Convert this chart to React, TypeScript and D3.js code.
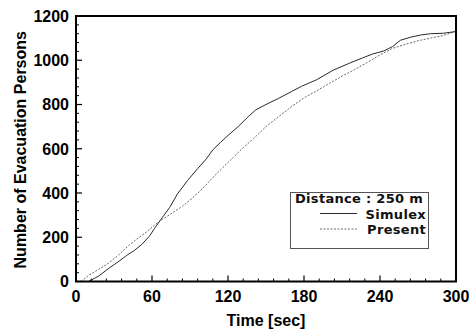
import React from "react";
import * as d3 from "d3";

const simulexTime = [10, 18, 26, 34, 40, 46, 52, 58, 62, 68, 74, 80, 88, 96, 103, 108, 114, 120, 128, 136, 142, 150, 160, 170, 178, 190, 203, 216, 226, 234, 243, 250, 256, 264, 272, 280, 290, 300];
const simulexPersons = [0, 25, 60, 92, 118, 140, 168, 205, 240, 288, 335, 395, 456, 510, 555, 595, 628, 660, 700, 745, 776, 800, 828, 858, 882, 912, 955, 987, 1010, 1028, 1042, 1062, 1090, 1104, 1114, 1120, 1122, 1130];

const presentTime = [4, 10, 18, 26, 34, 42, 50, 56, 62, 68, 74, 84, 92, 100, 108, 116, 124, 132, 140, 150, 160, 170, 180, 190, 200, 210, 220, 230, 240, 250, 260, 270, 280, 290, 300];
const presentPersons = [0, 28, 55, 84, 122, 165, 200, 225, 255, 280, 302, 340, 378, 420, 470, 515, 560, 605, 645, 700, 745, 790, 830, 862, 895, 928, 958, 990, 1024, 1054, 1072, 1088, 1100, 1112, 1130];

const xTicks = [0, 60, 120, 180, 240, 300];
const yTicks = [0, 200, 400, 600, 800, 1000, 1200];
const legendTitle = "Distance : 250 m";
const seriesNames = ["Simulex", "Present"];

export default function App() {
  const W = 474, H = 331;
  const L = 76, R = 456, T = 16, B = 281.5;
  const x = d3.scaleLinear().domain([0, 300]).range([L, R]);
  const y = d3.scaleLinear().domain([0, 1200]).range([B, T]);
  const line = d3.line<[number, number]>().x(d => x(d[0])).y(d => y(d[1]));
  const sim = simulexTime.map((t, i) => [t, simulexPersons[i]] as [number, number]);
  const pre = presentTime.map((t, i) => [t, presentPersons[i]] as [number, number]);
  const xMinor = d3.range(0, 301, 12).filter(v => v % 60 !== 0);
  const yMinor = d3.range(0, 1201, 40).filter(v => v % 200 !== 0);
  const font = "'Liberation Sans', Arial, sans-serif";
  const legendFont = "'DejaVu Sans', sans-serif";
  return (
    <svg width={W} height={H} style={{ position: "absolute", left: 0, top: 0, background: "#fff" }} fontFamily={font}>
      <rect x={0} y={0} width={W} height={H} fill="#fff" />
      {/* curves */}
      <path d={line(pre) || ""} fill="none" stroke="#6a6a6a" strokeWidth={1} strokeDasharray="2 1.5" />
      <path d={line(sim) || ""} fill="none" stroke="#2a2a2a" strokeWidth={1} />
      {/* ticks */}
      {xTicks.map(v => <line key={"xt" + v} x1={x(v)} x2={x(v)} y1={B} y2={B - 6} stroke="#000" strokeWidth={1.2} />)}
      {xMinor.map(v => <line key={"xm" + v} x1={x(v)} x2={x(v)} y1={B} y2={B - 3} stroke="#000" strokeWidth={1} />)}
      {yTicks.map(v => <line key={"yt" + v} x1={L} x2={L + 6} y1={y(v)} y2={y(v)} stroke="#000" strokeWidth={1.2} />)}
      {yMinor.map(v => <line key={"ym" + v} x1={L} x2={L + 3} y1={y(v)} y2={y(v)} stroke="#000" strokeWidth={1} />)}
      {/* frame */}
      <rect x={L} y={T} width={R - L} height={B - T} fill="none" stroke="#000" strokeWidth={2} />
      {/* tick labels */}
      {xTicks.map(v => (
        <text key={"xl" + v} x={x(v)} y={301.5} textAnchor="middle" fontSize={16} fontWeight="bold">{v}</text>
      ))}
      {yTicks.map(v => (
        <text key={"yl" + v} x={69} y={y(v) + 5.8} textAnchor="end" fontSize={16} fontWeight="bold">{v}</text>
      ))}
      <text x={x(150)} y={326} textAnchor="middle" fontSize={16} fontWeight="bold">Time [sec]</text>
      <text transform={`translate(26,${(T + B) / 2 + 1}) rotate(-90)`} textAnchor="middle" fontSize={16} fontWeight="bold">Number of Evacuation Persons</text>
      {/* legend */}
      <rect x={290.5} y={192.5} width={138} height={56} fill="#fff" stroke="#555" strokeWidth={1} />
      <g fontFamily={legendFont} fontSize={13} fontWeight="bold" fill="#111">
        <text x={295} y={203} letterSpacing={0.3}>{legendTitle}</text>
        <line x1={320} x2={357} y1={213.5} y2={213.5} stroke="#2a2a2a" strokeWidth={1} />
        <text x={426} y={218.5} textAnchor="end" letterSpacing={0.3}>{seriesNames[0]}</text>
        <line x1={320} x2={357} y1={229} y2={229} stroke="#6a6a6a" strokeWidth={1} strokeDasharray="2 1.5" />
        <text x={426} y={234} textAnchor="end" letterSpacing={0.3}>{seriesNames[1]}</text>
      </g>
    </svg>
  );
}
